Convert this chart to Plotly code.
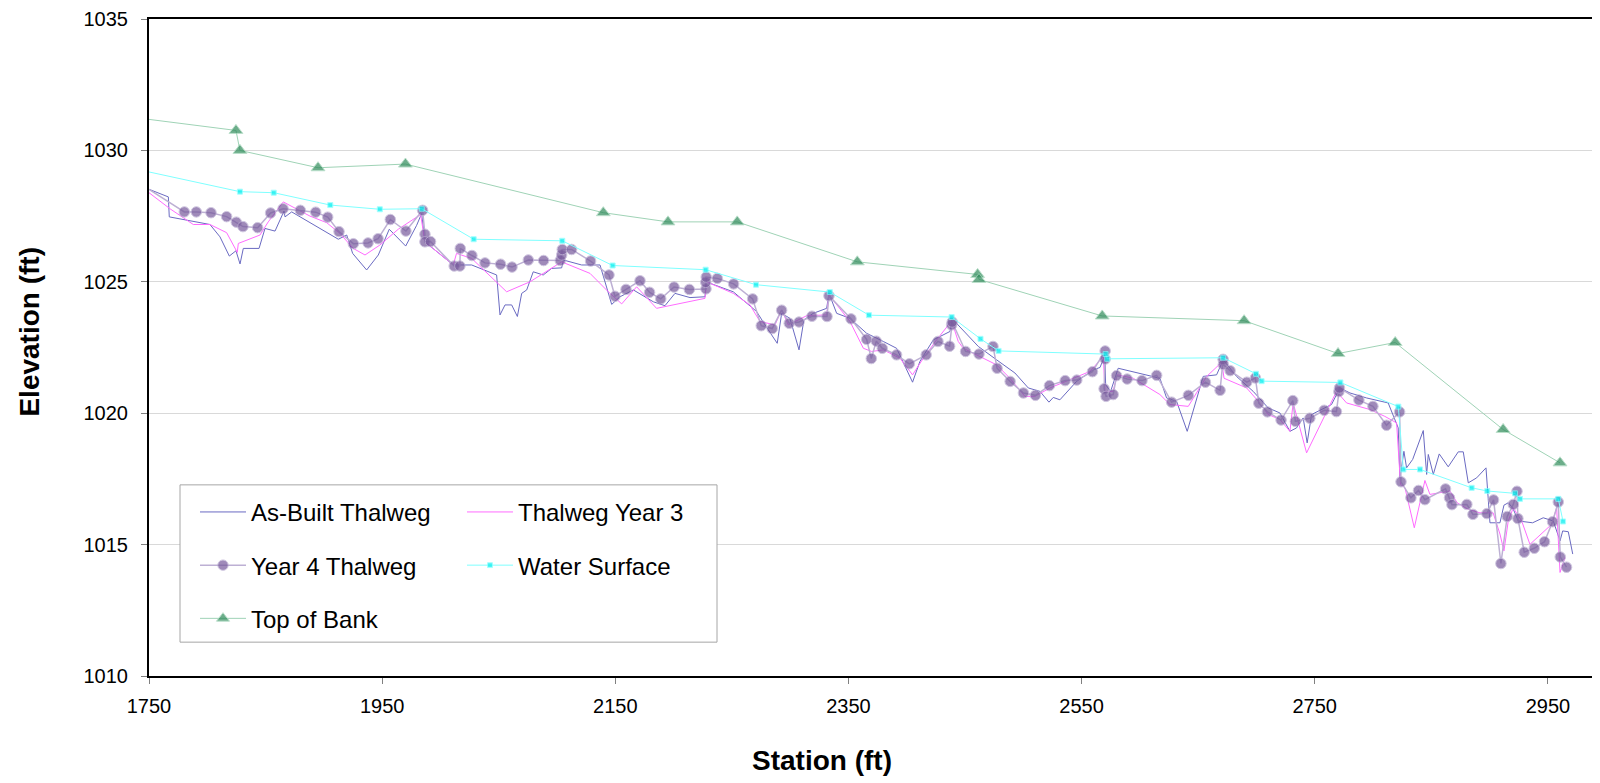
import plotly.graph_objects as go

# ---------------- data ----------------
asbuilt_x = [1750, 1766.6, 1767.4, 1802.3, 1810.9, 1818.9, 1824.6, 1828.1, 1830.9, 1844.4, 1849.5, 1858.1,
             1865.8, 1866.7, 1872.4, 1905.3, 1912.4, 1919.6, 1924.7, 1936.7, 1946.7, 1956.1, 1970.2,
             1979.6, 1983.9, 1986.7, 2011.0, 2026.8, 2048.2, 2051.1, 2055.4, 2061.1, 2066.0, 2069.7,
             2074.0, 2079.6, 2088.2, 2095.4, 2104.0, 2105.4, 2121.1, 2136.9, 2146.9, 2154.0, 2165.5,
             2182.6, 2192.6, 2201.2, 2214.1, 2227.0, 2227.8, 2251.2, 2271.2, 2278.4, 2288.9, 2292.7,
             2299.8, 2307.6, 2311.8, 2319.8, 2331.3, 2333.3, 2339.9, 2351.3, 2365.6, 2379.9, 2391.3,
             2405.0, 2411.3, 2422.8, 2437.1, 2439.1, 2461.4, 2477.1, 2492.8, 2504.3, 2514.3, 2522.0,
             2525.7, 2531.4, 2545.7, 2560.0, 2565.8, 2570.1, 2570.6, 2574.9, 2581.4, 2617.2, 2622.9,
             2631.5, 2640.6, 2654.3, 2665.8, 2671.5, 2682.9, 2697.2, 2710.1, 2720.1, 2728.7, 2734.4,
             2740.1, 2743.5, 2747.3, 2764.4, 2771.6, 2780.2, 2794.5, 2813.0, 2821.6, 2823.1, 2826.5,
             2828.8, 2834.0, 2843.1, 2846.0, 2847.4, 2851.7, 2856.8, 2864.5, 2873.1, 2877.4, 2881.7,
             2888.9, 2896.9, 2900.3, 2908.9, 2912.3, 2916.0, 2919.8, 2924.6, 2936.9, 2946.0, 2954.6,
             2960.4, 2962.7, 2967.5, 2971.3]
asbuilt_y = [1028.52, 1028.23, 1027.47, 1027.18, 1026.71, 1025.98, 1026.18, 1025.68, 1026.27, 1026.27, 1027.03, 1026.93,
             1027.69, 1027.47, 1027.66, 1026.80, 1026.62, 1026.78, 1026.08, 1025.45, 1026.02, 1027.00, 1026.36,
             1027.15, 1027.60, 1026.52, 1025.64, 1025.64, 1025.26, 1023.74, 1024.12, 1024.12, 1023.68, 1024.56,
             1024.69, 1025.38, 1025.26, 1025.51, 1025.53, 1025.83, 1025.64, 1025.64, 1024.14, 1024.43, 1024.69,
             1024.24, 1024.09, 1024.56, 1024.40, 1024.43, 1025.00, 1024.62, 1023.87, 1023.36, 1022.66, 1023.80,
             1023.61, 1022.41, 1023.55, 1023.80, 1023.99, 1024.56, 1023.80, 1023.61, 1023.04, 1022.73, 1022.47,
             1021.18, 1021.97, 1022.79, 1023.11, 1023.59, 1022.54, 1022.03, 1021.53, 1020.96, 1020.83, 1020.42,
             1020.60, 1020.51, 1021.21, 1021.65, 1021.74, 1022.22, 1021.08, 1020.83, 1021.71, 1021.33, 1020.58,
             1020.45, 1019.31, 1021.40, 1021.46, 1022.03, 1021.40, 1020.83, 1020.20, 1020.01, 1019.31, 1019.44,
             1019.82, 1018.87, 1019.95, 1020.33, 1020.96, 1020.77, 1020.58, 1020.39, 1019.44, 1017.54, 1018.55,
             1017.92, 1018.24, 1019.34, 1017.67, 1018.43, 1017.67, 1018.45, 1017.96, 1018.53, 1018.53, 1017.35,
             1017.54, 1017.92, 1015.83, 1015.83, 1016.50, 1016.59, 1016.40, 1015.90, 1015.83, 1016.02, 1015.90,
             1015.14, 1015.52, 1015.49, 1014.64]

year3_x = [1750, 1768.0, 1788.0, 1802.3, 1816.6, 1825.7, 1826.6, 1845.2, 1852.3, 1865.2, 1888.1, 1902.4,
           1913.8, 1925.2, 1935.3, 1948.1, 1963.8, 1983.0, 1986.7, 2011.0, 2013.8, 2026.8, 2056.8, 2076.8,
           2104.0, 2128.3, 2144.0, 2155.5, 2168.3, 2182.6, 2185.4, 2226.9, 2228.4, 2251.2, 2265.5, 2274.1,
           2287.0, 2292.7, 2298.4, 2314.2, 2331.3, 2333.3, 2351.3, 2362.8, 2369.9, 2379.9, 2394.2, 2405.0,
           2414.2, 2425.6, 2438.5, 2444.2, 2448.5, 2477.1, 2488.5, 2501.4, 2510.0, 2522.8, 2545.7, 2557.2,
           2568.6, 2570.1, 2577.0, 2580.6, 2594.3, 2617.2, 2625.8, 2641.5, 2657.3, 2670.2, 2672.2, 2691.6,
           2701.6, 2710.1, 2720.1, 2728.7, 2731.5, 2743.0, 2768.7, 2777.3, 2797.3, 2810.1, 2820.2, 2823.6,
           2827.4, 2835.4, 2844.5, 2848.8, 2865.9, 2872.2, 2881.7, 2891.7, 2903.0, 2908.9, 2912.3, 2916.0,
           2920.3, 2927.5, 2934.6, 2953.2, 2957.5, 2960.4, 2964.7]
year3_y = [1028.39, 1027.78, 1027.18, 1027.18, 1026.87, 1026.12, 1026.46, 1026.78, 1027.28, 1028.04, 1027.50, 1027.25,
           1026.84, 1026.27, 1026.02, 1026.40, 1027.00, 1027.56, 1026.52, 1025.64, 1026.08, 1025.89, 1024.62, 1025.00,
           1025.76, 1025.32, 1024.62, 1024.16, 1024.81, 1024.12, 1023.99, 1024.37, 1025.00, 1024.56, 1024.12, 1023.49,
           1023.36, 1023.93, 1023.36, 1023.71, 1023.74, 1024.50, 1023.49, 1022.47, 1022.35, 1022.41, 1022.09, 1021.46,
           1022.09, 1022.79, 1023.51, 1022.73, 1022.47, 1021.84, 1021.33, 1020.64, 1020.64, 1020.96, 1021.40, 1021.59,
           1022.16, 1020.83, 1020.83, 1021.46, 1021.33, 1020.71, 1020.33, 1020.26, 1021.40, 1021.94, 1021.33, 1020.96,
           1020.45, 1019.95, 1019.76, 1019.31, 1020.39, 1018.49, 1020.83, 1020.39, 1020.14, 1019.88, 1019.63, 1017.29,
           1017.16, 1015.64, 1017.44, 1016.91, 1017.04, 1016.59, 1016.34, 1016.21, 1016.21, 1015.40, 1014.76, 1015.90,
           1016.40, 1015.90, 1015.01, 1015.77, 1016.40, 1013.94, 1014.51]

year4_x = [1750, 1780.3, 1790.6, 1803.2, 1816.6, 1824.9, 1830.6, 1843.2, 1854.3, 1865.0, 1879.8, 1893.0,
           1903.3, 1913.0, 1925.3, 1937.9, 1946.5, 1957.0, 1970.4, 1984.7, 1986.7, 1986.7, 1991.5, 2011.8,
           2016.7, 2017.0, 2027.0, 2038.2, 2051.6, 2061.4, 2075.4, 2088.5, 2102.8, 2104.0, 2104.5, 2112.5,
           2128.8, 2144.6, 2149.7, 2159.2, 2171.2, 2179.4, 2189.0, 2200.4, 2213.5, 2227.8, 2227.6, 2228.0,
           2237.5, 2251.5, 2267.8, 2275.2, 2284.6, 2292.7, 2299.2, 2307.6, 2318.7, 2331.6, 2333.3, 2352.2,
           2365.6, 2369.6, 2373.9, 2379.0, 2391.3, 2402.2, 2416.7, 2426.8, 2436.8, 2438.5, 2439.0, 2450.5,
           2462.0, 2474.0, 2477.5, 2488.7, 2500.1, 2510.4, 2522.4, 2535.9, 2545.9, 2559.3, 2570.2, 2570.2,
           2569.3, 2571.0, 2577.1, 2580.0, 2589.1, 2601.8, 2614.4, 2627.2, 2641.6, 2656.2, 2668.8, 2671.4,
           2671.6, 2677.4, 2691.7, 2699.1, 2702.0, 2709.4, 2721.1, 2731.2, 2733.4, 2745.8, 2758.1, 2768.6,
           2770.7, 2771.2, 2787.9, 2799.9, 2811.6, 2822.8, 2824.0, 2832.5, 2839.0, 2844.5, 2862.2, 2865.6,
           2867.7, 2880.5, 2885.7, 2897.7, 2903.4, 2909.7, 2915.1, 2920.3, 2923.5, 2924.3, 2929.7, 2938.3,
           2947.1, 2954.0, 2958.9, 2960.6, 2966.0]
year4_y = [1028.52, 1027.66, 1027.66, 1027.63, 1027.48, 1027.27, 1027.10, 1027.06, 1027.62, 1027.78, 1027.72, 1027.65,
           1027.46, 1026.91, 1026.45, 1026.48, 1026.64, 1027.37, 1026.93, 1027.72, 1026.81, 1026.52, 1026.53, 1025.60,
           1025.60, 1026.27, 1026.00, 1025.72, 1025.67, 1025.56, 1025.83, 1025.81, 1025.81, 1026.02, 1026.23, 1026.23,
           1025.79, 1025.26, 1024.45, 1024.71, 1025.04, 1024.60, 1024.35, 1024.80, 1024.71, 1024.73, 1024.98, 1025.18,
           1025.13, 1024.92, 1024.35, 1023.33, 1023.22, 1023.92, 1023.42, 1023.47, 1023.69, 1023.68, 1024.47, 1023.59,
           1022.81, 1022.08, 1022.74, 1022.47, 1022.22, 1021.88, 1022.22, 1022.73, 1022.55, 1023.36, 1023.47, 1022.35,
           1022.25, 1022.54, 1021.71, 1021.21, 1020.77, 1020.68, 1021.05, 1021.24, 1021.26, 1021.58, 1022.37, 1022.06,
           1020.93, 1020.64, 1020.71, 1021.43, 1021.30, 1021.24, 1021.44, 1020.42, 1020.68, 1021.18, 1020.87, 1022.05,
           1021.85, 1021.62, 1021.18, 1021.34, 1020.38, 1020.05, 1019.74, 1020.48, 1019.69, 1019.81, 1020.11, 1020.06,
           1020.82, 1020.96, 1020.50, 1020.26, 1019.54, 1020.05, 1017.39, 1016.78, 1017.06, 1016.71, 1017.12, 1016.78,
           1016.52, 1016.53, 1016.15, 1016.18, 1016.70, 1014.28, 1016.07, 1016.53, 1017.03, 1015.99, 1014.71, 1014.86,
           1015.11, 1015.87, 1016.62, 1014.53, 1014.14]

water_x = [1750, 1828.0, 1857.0, 1905.5, 1948.0, 1984.0, 2028.5, 2104.5, 2147.7, 2227.5, 2270.7, 2334.0,
           2367.6, 2438.5, 2463.3, 2478.8, 2570.6, 2572.0, 2671.5, 2699.6, 2704.4, 2772.0, 2821.7, 2826.0,
           2840.3, 2884.6, 2898.0, 2921.8, 2926.0, 2958.9, 2963.0]
water_y = [1029.18, 1028.43, 1028.39, 1027.92, 1027.76, 1027.78, 1026.62, 1026.56, 1025.62, 1025.46, 1024.89, 1024.61,
           1023.73, 1023.66, 1022.83, 1022.37, 1022.25, 1022.07, 1022.11, 1021.50, 1021.22, 1021.17, 1020.25, 1017.86,
           1017.86, 1017.16, 1017.04, 1016.95, 1016.74, 1016.74, 1015.88]

bank_x = [1750, 1824.6, 1828.0, 1895.0, 1970.0, 2139.7, 2195.2, 2254.6, 2357.6, 2460.8, 2462.0, 2567.7,
          2689.4, 2770.0, 2819.0, 2911.6, 2960.4]
bank_y = [1031.18, 1030.76, 1030.00, 1029.34, 1029.48, 1027.63, 1027.28, 1027.28, 1025.76, 1025.28, 1025.09, 1023.70,
          1023.52, 1022.27, 1022.69, 1019.38, 1018.11]

x_ticks = [1750, 1950, 2150, 2350, 2550, 2750, 2950]
y_ticks = [1010, 1015, 1020, 1025, 1030, 1035]

FONT = "Arial, 'Liberation Sans', sans-serif"


def first_hidden(n, size):
    return [0] + [size] * (n - 1)


fig = go.Figure()

fig.add_trace(go.Scatter(x=asbuilt_x, y=asbuilt_y, mode="lines", name="As-Built Thalweg",
                         line=dict(color="#6A6AC2", width=1), legend="legend", legendgroup="a"))
fig.add_trace(go.Scatter(x=year3_x, y=year3_y, mode="lines", name="Thalweg Year 3",
                         line=dict(color="#FF6BFF", width=1), legend="legend2", legendgroup="b"))
fig.add_trace(go.Scatter(x=year4_x, y=year4_y, mode="lines+markers", name="Year 4 Thalweg",
                         line=dict(color="#BDB0D4", width=1.5),
                         marker=dict(symbol="circle", size=first_hidden(len(year4_x), 10.5), color="#775A9C"),
                         legend="legend", legendgroup="c"))
fig.add_trace(go.Scatter(x=water_x, y=water_y, mode="lines+markers", name="Water Surface",
                         line=dict(color="#7FFFFF", width=1),
                         marker=dict(symbol="square", size=first_hidden(len(water_x), 5), color="#00EEEE"),
                         legend="legend2", legendgroup="d"))
fig.add_trace(go.Scatter(x=bank_x, y=bank_y, mode="lines+markers", name="Top of Bank",
                         line=dict(color="#9FD3B6", width=1),
                         marker=dict(symbol="triangle-up", size=first_hidden(len(bank_x), 12), color="#2E8B5A"),
                         legend="legend", legendgroup="e"))

# page body has an 8px margin: the figure is shifted by OFF, so it is sized/margined to compensate
OFF = 8
W, H = 1600 - OFF, 783 - OFF
PL, PT, PB = 149, 16, 676          # plot area edges in page pixels
L, T = PL - OFF, PT - OFF
B = H - (PB - OFF)
R = 0
pw, ph = W - L - R, H - T - B


def px(xp):
    return (xp - PL) / pw


def py(yp):
    return (PB - yp) / ph


leg_common = dict(font=dict(family=FONT, size=24, color="black"), bgcolor="rgba(0,0,0,0)",
                  borderwidth=0, itemwidth=46, tracegroupgap=19, xanchor="left", yanchor="top",
                  orientation="v")

fig.update_layout(
    width=W, height=H,
    margin=dict(l=L, r=R, t=T, b=B),
    paper_bgcolor="white", plot_bgcolor="white",
    font=dict(family=FONT, color="black"),
    showlegend=True,
    legend=dict(x=px(195), y=py(489), **leg_common),
    legend2=dict(x=px(462), y=py(489), **leg_common),
    xaxis=dict(range=[1750, 2994.7], tickvals=x_ticks, showgrid=False, zeroline=False,
               showline=True, linecolor="black", linewidth=2, mirror=True,
               ticks="outside", ticklen=6, tickcolor="#808080", tickwidth=1,
               tickfont=dict(family=FONT, size=20, color="black"), ticklabelstandoff=5,
               ticklabeloverflow="allow"),
    yaxis=dict(range=[1010, 1035], tickvals=y_ticks, showgrid=True, gridcolor="#D9D9D9", gridwidth=1,
               zeroline=False, showline=True, linecolor="black", linewidth=2, mirror=False,
               ticks="outside", ticklen=6, tickcolor="#808080", tickwidth=1,
               tickfont=dict(family=FONT, size=20, color="black"), ticklabelstandoff=9,
               ticklabeloverflow="allow"),
    shapes=[dict(type="rect", xref="paper", yref="paper", x0=px(180), x1=px(717), y0=py(642), y1=py(484),
                 line=dict(color="#A6A6A6", width=1), fillcolor="white", layer="above")],
    annotations=[
        dict(text="<b>Elevation (ft)</b>", xref="paper", yref="paper", x=px(30), y=py(330),
             xanchor="center", yanchor="middle", textangle=-90, showarrow=False,
             font=dict(family=FONT, size=28, color="black")),
        dict(text="<b>Station (ft)</b>", xref="paper", yref="paper", x=px(822), y=py(761),
             xanchor="center", yanchor="middle", showarrow=False,
             font=dict(family=FONT, size=28, color="black")),
    ],
)

fig.write_html("out.html")
